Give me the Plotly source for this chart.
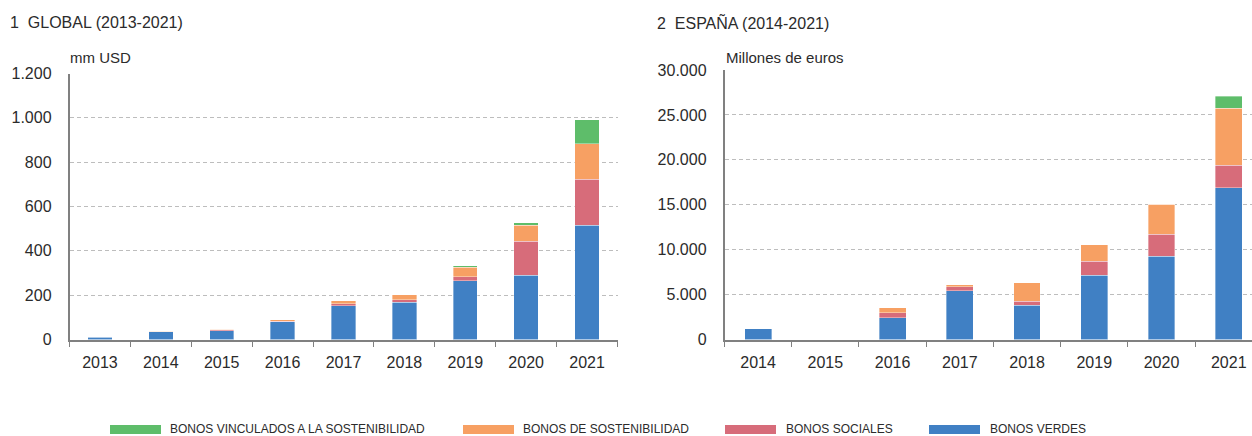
import plotly.graph_objects as go

# Global issuance (mm USD), 2013-2021
years_global = ["2013", "2014", "2015", "2016", "2017", "2018", "2019", "2020", "2021"]
global_verdes = [11, 34, 40, 81, 152, 167, 265, 289, 515]
global_sociales = [1, 2, 4, 1, 9, 12, 19, 154, 208]
global_sostenibilidad = [1, 2, 2, 6, 13, 23, 43, 72, 160]
global_vinculados = [0, 0, 0, 0, 0, 0, 5, 11, 108]

# Spain issuance (millones de euros), 2014-2021
years_spain = ["2014", "2015", "2016", "2017", "2018", "2019", "2020", "2021"]
spain_verdes = [1170, 0, 2430, 5430, 3800, 7180, 9260, 16900]
spain_sociales = [0, 0, 560, 450, 480, 1520, 2450, 2490]
spain_sostenibilidad = [0, 0, 520, 190, 2010, 1850, 3340, 6380]
spain_vinculados = [0, 0, 0, 0, 0, 0, 0, 1330]

series_names = [
    "BONOS VINCULADOS A LA SOSTENIBILIDAD",
    "BONOS DE SOSTENIBILIDAD",
    "BONOS SOCIALES",
    "BONOS VERDES",
]
colors = {
    "BONOS VERDES": "#4080c4",
    "BONOS SOCIALES": "#d76c7a",
    "BONOS DE SOSTENIBILIDAD": "#f7a063",
    "BONOS VINCULADOS A LA SOSTENIBILIDAD": "#5ebd6a",
}

W, H = 1252, 436
FONT = "Liberation Sans, Arial, sans-serif"
TXT = "#2b2b2b"


def px_x(x):
    return x / W


def px_y(y):
    return 1 - y / H


fig = go.Figure()

stack_global = [
    ("BONOS VERDES", global_verdes),
    ("BONOS SOCIALES", global_sociales),
    ("BONOS DE SOSTENIBILIDAD", global_sostenibilidad),
    ("BONOS VINCULADOS A LA SOSTENIBILIDAD", global_vinculados),
]
stack_spain = [
    ("BONOS VERDES", spain_verdes),
    ("BONOS SOCIALES", spain_sociales),
    ("BONOS DE SOSTENIBILIDAD", spain_sostenibilidad),
    ("BONOS VINCULADOS A LA SOSTENIBILIDAD", spain_vinculados),
]

for name, vals in stack_global:
    fig.add_trace(go.Bar(
        x=years_global, y=vals, name=name, xaxis="x", yaxis="y",
        marker=dict(color=colors[name], line=dict(color="rgba(255,255,255,0.6)", width=0.6)),
        showlegend=False,
    ))
for name, vals in stack_spain:
    fig.add_trace(go.Bar(
        x=years_spain, y=vals, name=name, xaxis="x2", yaxis="y2",
        marker=dict(color=colors[name], line=dict(color="rgba(255,255,255,0.6)", width=0.6)),
        showlegend=False,
    ))

y_bottom = px_y(339.5)

xaxis_common = dict(
    type="category", showline=True, linecolor="#808080", linewidth=2,
    ticks="outside", tickson="boundaries", ticklen=5, tickcolor="#808080", tickwidth=1,
    showgrid=False, zeroline=False, automargin=False,
    tickfont=dict(family=FONT, size=16, color=TXT), ticklabelstandoff=7,
)
yaxis_common = dict(
    showline=True, linecolor="#808080", linewidth=1.5, ticks="",
    showgrid=True, gridcolor="#bdbdbd", gridwidth=1, griddash="4px,3px",
    zeroline=False, automargin=False, tickformat=",d",
    tickfont=dict(family=FONT, size=16, color=TXT), ticklabelstandoff=13,
)

fig.update_layout(
    width=W, height=H,
    margin=dict(l=0, r=0, t=0, b=0),
    paper_bgcolor="white", plot_bgcolor="white",
    barmode="stack", bargap=0.6,
    separators=",.",
    showlegend=False,
    xaxis=dict(domain=[px_x(69.5), px_x(617.5)], anchor="y", range=[-0.5, 8.5], **xaxis_common),
    yaxis=dict(domain=[y_bottom, px_y(73.5)], anchor="x", range=[0, 1200],
               tickvals=[0, 200, 400, 600, 800, 1000, 1200], **yaxis_common),
    xaxis2=dict(domain=[px_x(724.5), 1], anchor="y2", range=[-0.5, 7.346], **xaxis_common),
    yaxis2=dict(domain=[y_bottom, px_y(70)], anchor="x2", range=[0, 30000],
                tickvals=[0, 5000, 10000, 15000, 20000, 25000, 30000], **yaxis_common),
)

annotations = [
    dict(text="1\u00a0 GLOBAL (2013-2021)", x=px_x(8), y=px_y(22), xanchor="left", yanchor="middle",
         font=dict(family=FONT, size=16, color=TXT)),
    dict(text="2\u00a0 ESPAÑA (2014-2021)", x=px_x(655), y=px_y(22), xanchor="left", yanchor="middle",
         font=dict(family=FONT, size=16, color=TXT)),
    dict(text="mm USD", x=px_x(68), y=px_y(57), xanchor="left", yanchor="middle",
         font=dict(family=FONT, size=15, color=TXT)),
    dict(text="Millones de euros", x=px_x(724), y=px_y(57), xanchor="left", yanchor="middle",
         font=dict(family=FONT, size=15, color=TXT)),
    dict(text="(b)", x="2021", xref="x", y=px_y(383), yref="paper", xanchor="center", yanchor="middle",
         font=dict(family=FONT, size=16, color=TXT)),
]
for a in annotations:
    a.setdefault("xref", "paper")
    a.setdefault("yref", "paper")
    a["showarrow"] = False

# Legend drawn as wide swatches with labels along the bottom
legend_pos = [(110, 168), (463, 521), (725, 784), (929, 988)]
shapes = []
for name, (sx, tx) in zip(series_names, legend_pos):
    shapes.append(dict(type="rect", xref="paper", yref="paper",
                       x0=px_x(sx), x1=px_x(sx + 51), y0=px_y(434), y1=px_y(425),
                       fillcolor=colors[name], line=dict(width=0)))
    annotations.append(dict(text=name, x=px_x(tx), y=px_y(429), xref="paper", yref="paper",
                            xanchor="left", yanchor="middle", showarrow=False,
                            font=dict(family=FONT, size=12, color=TXT)))

fig.update_layout(annotations=annotations, shapes=shapes)

fig.write_html("out.html")
